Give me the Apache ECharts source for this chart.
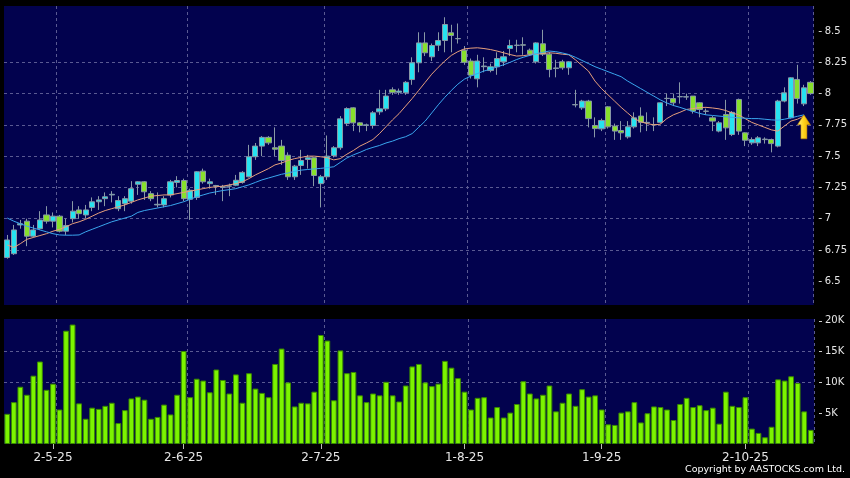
<!DOCTYPE html>
<html><head><meta charset="utf-8">
<script src="https://cdn.jsdelivr.net/npm/echarts@6/dist/echarts.min.js"></script>
<style>html,body{margin:0;padding:0;background:#000;}#c{width:850px;height:478px;}</style>
</head><body><div id="c"></div>
<script>
const dates = [
'22-4-25','23-4-25','24-4-25','25-4-25','28-4-25','29-4-25','30-4-25',
'2-5-25','6-5-25','7-5-25','8-5-25','9-5-25','12-5-25','13-5-25','14-5-25','15-5-25','16-5-25','19-5-25','20-5-25','21-5-25','22-5-25','23-5-25','26-5-25','27-5-25','28-5-25','29-5-25','30-5-25',
'2-6-25','3-6-25','4-6-25','5-6-25','6-6-25','9-6-25','10-6-25','11-6-25','12-6-25','13-6-25','16-6-25','17-6-25','18-6-25','19-6-25','20-6-25','23-6-25','24-6-25','25-6-25','26-6-25','27-6-25','30-6-25',
'2-7-25','3-7-25','4-7-25','7-7-25','8-7-25','9-7-25','10-7-25','11-7-25','14-7-25','15-7-25','16-7-25','17-7-25','18-7-25','21-7-25','22-7-25','23-7-25','24-7-25','25-7-25','28-7-25','29-7-25','30-7-25','31-7-25',
'1-8-25','4-8-25','5-8-25','6-8-25','7-8-25','8-8-25','11-8-25','12-8-25','13-8-25','14-8-25','15-8-25','18-8-25','19-8-25','20-8-25','21-8-25','22-8-25','25-8-25','26-8-25','27-8-25','28-8-25','29-8-25',
'1-9-25','2-9-25','3-9-25','4-9-25','5-9-25','8-9-25','9-9-25','10-9-25','11-9-25','12-9-25','15-9-25','16-9-25','17-9-25','18-9-25','19-9-25','22-9-25','23-9-25','24-9-25','25-9-25','26-9-25','29-9-25','30-9-25',
'2-10-25','3-10-25','6-10-25','8-10-25','9-10-25','10-10-25','13-10-25','14-10-25','15-10-25','16-10-25','17-10-25'
];
const tickLabels = ['2-5-25','2-6-25','2-7-25','1-8-25','1-9-25','2-10-25'];
const priceTicks = [6.5,6.75,7,7.25,7.5,7.75,8,8.25,8.5];
const volumeTicks = [5000,10000,15000,20000];

// [open, close, low, high]
const candles = [
[6.69,6.83,6.68,6.87],[6.72,6.91,6.71,6.95],[6.95,6.96,6.92,6.99],[6.98,6.86,6.78,7.00],[6.86,6.91,6.85,6.95],
[6.92,6.99,6.91,7.06],[7.03,6.98,6.96,7.10],[6.98,7.02,6.93,7.05],[7.02,6.90,6.89,7.03],[6.90,6.945,6.87,7.00],
[7.00,7.06,6.97,7.14],[7.07,7.04,7.00,7.10],[7.03,7.07,7.00,7.11],[7.09,7.135,7.06,7.17],[7.135,7.15,7.07,7.18],
[7.16,7.175,7.10,7.21],[7.19,7.195,7.13,7.22],[7.08,7.145,7.06,7.18],[7.12,7.16,7.06,7.18],[7.14,7.24,7.12,7.30],
[7.275,7.295,7.19,7.30],[7.295,7.215,7.15,7.30],[7.20,7.16,7.14,7.22],[7.11,7.115,7.09,7.21],[7.11,7.16,7.09,7.18],
[7.19,7.295,7.17,7.31],[7.29,7.305,7.25,7.34],[7.305,7.16,7.14,7.32],[7.155,7.227,6.99,7.24],[7.17,7.375,7.15,7.38],
[7.38,7.295,7.28,7.40],[7.28,7.295,7.24,7.32],[7.26,7.265,7.19,7.27],[7.25,7.255,7.14,7.27],[7.26,7.262,7.18,7.28],
[7.267,7.307,7.26,7.35],[7.29,7.37,7.28,7.38],[7.335,7.495,7.33,7.59],[7.495,7.58,7.47,7.605],[7.58,7.65,7.50,7.66],
[7.65,7.606,7.59,7.66],[7.567,7.555,7.50,7.73],[7.58,7.465,7.43,7.63],[7.507,7.335,7.31,7.53],[7.335,7.42,7.31,7.43],
[7.425,7.465,7.35,7.55],[7.473,7.487,7.40,7.51],[7.487,7.345,7.26,7.49],[7.28,7.335,7.09,7.35],[7.335,7.50,7.31,7.665],
[7.505,7.567,7.49,7.58],[7.567,7.798,7.55,7.82],[7.76,7.88,7.74,7.89],[7.886,7.766,7.70,7.89],[7.766,7.745,7.69,7.77],
[7.745,7.75,7.70,7.76],[7.745,7.846,7.72,7.86],[7.854,7.878,7.83,8.03],[7.878,7.98,7.86,8.03],[8.03,8.01,7.99,8.05],
[8.01,8.02,7.99,8.04],[8.006,8.09,7.99,8.10],[8.112,8.246,8.07,8.29],[8.246,8.405,8.17,8.49],[8.405,8.326,8.30,8.49],
[8.294,8.384,8.26,8.40],[8.387,8.424,8.34,8.49],[8.424,8.552,8.33,8.61],[8.486,8.464,8.33,8.55],[8.44,8.438,8.40,8.56],
[8.347,8.25,8.23,8.38],[8.26,8.147,8.12,8.28],[8.118,8.26,8.05,8.31],[8.215,8.22,8.17,8.29],[8.184,8.214,8.17,8.24],
[8.214,8.28,8.15,8.33],[8.254,8.294,8.22,8.34],[8.36,8.384,8.30,8.43],[8.385,8.387,8.33,8.43],[8.39,8.387,8.31,8.45],
[8.347,8.315,8.30,8.36],[8.254,8.405,8.24,8.41],[8.398,8.315,8.30,8.51],[8.315,8.192,8.13,8.33],[8.20,8.205,8.13,8.27],
[8.254,8.206,8.19,8.27],[8.206,8.254,8.15,8.26],[7.91,7.912,7.89,8.03],[7.886,7.94,7.87,7.95],[7.94,7.80,7.73,7.95],
[7.745,7.72,7.65,7.81],[7.718,7.785,7.70,7.80],[7.894,7.734,7.72,7.90],[7.74,7.70,7.63,7.76],[7.705,7.686,7.63,7.78],
[7.654,7.734,7.64,7.78],[7.734,7.806,7.72,7.85],[7.82,7.77,7.69,7.89],[7.766,7.77,7.70,7.85],[7.75,7.752,7.70,7.81],
[7.77,7.926,7.76,7.93],[7.96,7.962,7.90,8.00],[7.96,7.926,7.90,8.00],[7.974,7.976,7.92,8.09],[7.972,7.975,7.95,8.00],
[7.98,7.86,7.84,7.98],[7.926,7.873,7.81,7.93],[7.86,7.858,7.83,7.88],[7.806,7.78,7.70,7.82],[7.70,7.766,7.69,7.78],
[7.833,7.726,7.63,7.95],[7.673,7.85,7.66,7.86],[7.953,7.70,7.67,7.96],[7.686,7.627,7.58,7.69],[7.606,7.633,7.59,7.65],
[7.606,7.646,7.58,7.66],[7.632,7.636,7.60,7.65],[7.633,7.60,7.53,7.64],[7.58,7.94,7.57,7.95],[7.94,8.006,7.93,8.05],
[7.806,8.126,7.80,8.13],[8.113,7.96,7.92,8.23],[7.918,8.046,7.90,8.07],[8.09,8.00,7.99,8.10]
];

const volume = [
4900,6800,9300,8000,11100,13400,8800,9800,5600,18400,
19400,6600,4100,5900,5700,6200,6700,3400,5500,7400,
7700,7200,4100,4400,6400,4800,8000,15100,7600,10600,
10300,8400,12100,10400,8200,11300,6700,11500,9000,8300,
7600,13000,15500,10000,6100,6700,6600,8500,17700,16800,
7100,15200,11500,11700,7900,6800,8200,7900,10100,7900,
6900,9500,12600,13000,10000,9400,9800,13500,12400,10700,
8500,5600,7500,7600,4300,6000,4300,5100,6500,10200,
8200,7400,8000,9500,5300,6700,8200,6200,8900,7700,
7900,5600,3200,3100,5100,5300,6800,3500,5000,6100,
6000,5600,3900,6500,7500,6000,6300,5500,5900,3300,
8500,6200,6000,7600,2500,1800,1100,2800,10500,10300,
11000,9900,5300,2300
];

const maShort = [
6.79,6.77,6.80,6.835,6.85,6.865,6.88,6.90,6.915,6.935,
6.96,6.975,6.995,7.02,7.045,7.065,7.08,7.095,7.11,7.13,
7.15,7.165,7.18,7.185,7.19,7.19,7.20,7.21,7.22,7.23,
7.24,7.25,7.255,7.26,7.27,7.28,7.295,7.32,7.35,7.375,
7.40,7.43,7.445,7.465,7.48,7.49,7.50,7.50,7.495,7.487,
7.47,7.48,7.515,7.545,7.58,7.605,7.633,7.68,7.735,7.79,
7.84,7.90,7.96,8.025,8.09,8.155,8.21,8.26,8.305,8.335,
8.357,8.363,8.366,8.36,8.352,8.34,8.326,8.312,8.30,8.303,
8.31,8.315,8.32,8.326,8.322,8.315,8.31,8.27,8.225,8.18,
8.10,8.04,7.99,7.94,7.89,7.845,7.80,7.775,7.76,7.75,
7.755,7.80,7.83,7.85,7.873,7.88,7.888,7.89,7.885,7.878,
7.865,7.845,7.83,7.80,7.77,7.75,7.73,7.71,7.70,7.74,
7.78,7.795,7.82,null
];

const maLong = [
7.005,6.98,6.96,6.94,6.925,6.91,6.895,6.88,6.87,6.868,
6.868,6.87,6.895,6.915,6.935,6.955,6.975,6.99,7.005,7.02,
7.05,7.065,7.075,7.085,7.095,7.105,7.12,7.135,7.155,7.175,
7.19,7.205,7.215,7.225,7.232,7.24,7.255,7.27,7.29,7.31,
7.325,7.34,7.355,7.365,7.378,7.388,7.393,7.398,7.402,7.408,
7.415,7.45,7.485,7.51,7.53,7.553,7.57,7.585,7.605,7.62,
7.64,7.655,7.68,7.73,7.78,7.845,7.91,7.97,8.025,8.075,
8.115,8.14,8.16,8.18,8.195,8.213,8.23,8.25,8.272,8.29,
8.305,8.318,8.33,8.34,8.335,8.325,8.312,8.29,8.265,8.24,
8.215,8.195,8.175,8.155,8.135,8.10,8.07,8.04,8.01,7.98,
7.95,7.925,7.905,7.89,7.873,7.858,7.842,7.83,7.825,7.82,
7.815,7.81,7.806,7.803,7.80,7.80,7.795,7.79,7.787,7.795,
7.806,7.818,7.83,null
];

const isTick = (i, v) => tickLabels.indexOf(v) >= 0;
// month separators are drawn on the right edge of the month's first bar
const isSep = (i) => i > 0 && tickLabels.indexOf(dates[i - 1]) >= 0;
const gridLine = {show: true, interval: isSep, lineStyle: {color: '#5a5a92', type: [3, 3], width: 1}};
const hGridLine = {show: true, showMinLine: false, showMaxLine: false, lineStyle: {color: '#5a5a92', type: [3, 3], width: 1}};
const FONT = '"DejaVu Sans", sans-serif';

const chart = echarts.init(document.getElementById('c'), null, {renderer: 'canvas'});
chart.setOption({
  animation: false,
  backgroundColor: '#000',
  grid: [
    {left: 4, top: 6, width: 810, height: 299, show: true, backgroundColor: '#02024e', borderWidth: 0},
    {left: 4, top: 319, width: 810, height: 125, show: true, backgroundColor: '#02024e', borderWidth: 0}
  ],
  xAxis: [
    {type: 'category', gridIndex: 0, data: dates, boundaryGap: true,
     axisLine: {show: false}, axisTick: {show: false}, axisLabel: {show: false}, splitLine: gridLine},
    {type: 'category', gridIndex: 1, data: dates, boundaryGap: true,
     axisLine: {show: false},
     axisTick: {show: true, alignWithLabel: true, interval: isTick, length: 5, lineStyle: {color: '#bbbbbb'}},
     axisLabel: {interval: isTick, color: '#e6e6e6', fontSize: 12, fontFamily: FONT, margin: 8},
     splitLine: gridLine}
  ],
  yAxis: [
    {type: 'value', gridIndex: 0, position: 'right', min: 6.31, max: 8.70, offset: 5, scale: true,
     axisLine: {show: false},
     axisTick: {show: true, length: 3, customValues: priceTicks, lineStyle: {color: '#cccccc'}},
     axisLabel: {customValues: priceTicks, color: '#e6e6e6', fontSize: 10, fontFamily: FONT, margin: 6},
     splitLine: hGridLine},
    {type: 'value', gridIndex: 1, position: 'right', min: 0, max: 20300, offset: 5,
     axisLine: {show: false},
     axisTick: {show: true, length: 3, customValues: volumeTicks, lineStyle: {color: '#cccccc'}},
     axisLabel: {customValues: volumeTicks, color: '#e6e6e6', fontSize: 10, fontFamily: FONT, margin: 6,
       formatter: v => (v / 1000) + 'K'},
     splitLine: hGridLine}
  ],
  series: [
    {type: 'candlestick', xAxisIndex: 0, yAxisIndex: 0, data: candles, barWidth: '86%',
     itemStyle: {color: '#26e3f0', color0: '#88e02c', borderColor: '#8898a6', borderColor0: '#8898a6', borderWidth: 1}},
    {type: 'line', xAxisIndex: 0, yAxisIndex: 0, data: maShort, symbol: 'none',
     lineStyle: {color: '#e8a07c', width: 1}},
    {type: 'line', xAxisIndex: 0, yAxisIndex: 0, data: maLong, symbol: 'none',
     lineStyle: {color: '#3aa6ee', width: 1},
     markPoint: {
       symbol: 'path://M6.5,0 L13,10 L9.5,10 L9.5,24 L3.5,24 L3.5,10 L0,10 Z',
       symbolSize: [13, 24], symbolOffset: [0, '50%'], label: {show: false},
       itemStyle: {color: new echarts.graphic.LinearGradient(0, 0, 1, 0, [
         {offset: 0, color: '#fff27a'}, {offset: 0.5, color: '#ffd21a'}, {offset: 1, color: '#e0a000'}]),
         borderColor: '#c08000', borderWidth: 0.5},
       data: [{coord: [dates[122], maLong[122]]}]
     }},
    {type: 'bar', xAxisIndex: 1, yAxisIndex: 1, data: volume, barCategoryGap: '12%',
     itemStyle: {color: '#7cf400', borderColor: '#3a8a00', borderWidth: 1}}
  ],
  graphic: [
    {type: 'text', right: 5, top: 465,
     style: {text: 'Copyright by AASTOCKS.com Ltd.', fill: '#ffffff', font: '9.5px "DejaVu Sans", sans-serif'}}
  ]
});
</script>
</body></html>
